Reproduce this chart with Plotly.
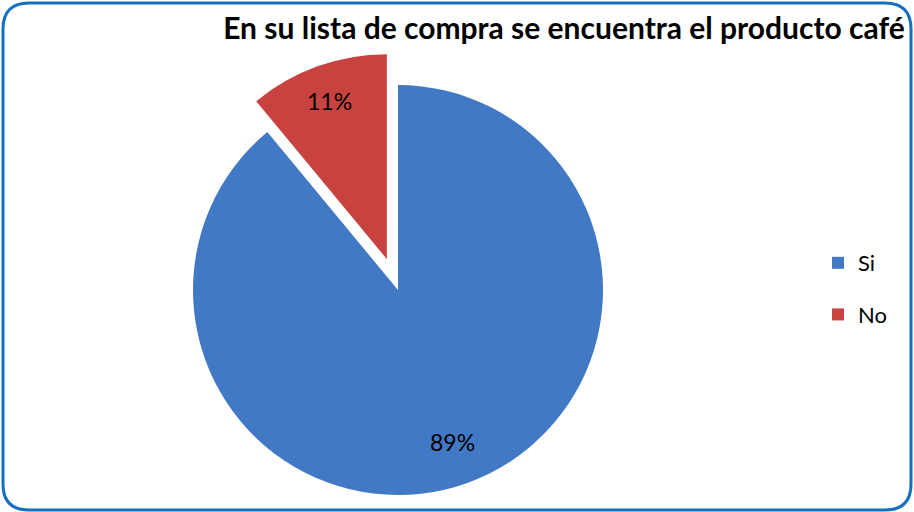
import math
import plotly.graph_objects as go

labels = ["Si", "No"]
values = [89, 11]
colors = ["#4279C4", "#C8423F"]
pulls = [0.0, 0.16]          # pull-out as a fraction of the radius
label_radius = [0.79, 0.82]  # where each percentage label sits, fraction of radius
title_text = "En su lista de compra se encuentra el producto café"

W, H = 914, 512
CX, CY, R = 398, 290, 205   # pie centre (px from left/top) and radius in px
FONT = "Lato"

total = sum(values)
fig = go.Figure()

# legend-only tiny pies (one legend group per label so the entries can be spaced)
for i, (lab, col) in enumerate(zip(labels, colors)):
    fig.add_trace(go.Pie(
        labels=[lab], values=[values[i]], sort=False,
        marker=dict(colors=[col], line=dict(width=0)),
        textinfo="none", hoverinfo="skip",
        legendgroup=f"g{i}", showlegend=True,
        domain=dict(x=[(470 - 4) / W, (470 + 4) / W],
                    y=[1 - (400 + 4) / H, 1 - (400 - 4) / H]),
    ))

# one pie per slice, each drawn with the other slice transparent and its
# centre shifted along the slice bisector by its pull
start = 0.0
for i, lab in enumerate(labels):
    frac = values[i] / total
    mid = (start + frac / 2) * 2 * math.pi      # clockwise from 12 o'clock
    start += frac
    shift = pulls[i] * R
    cx = CX + shift * math.sin(mid)
    cy = CY - shift * math.cos(mid)
    cols = ["rgba(0,0,0,0)"] * len(labels)
    cols[i] = colors[i]
    fig.add_trace(go.Pie(
        labels=labels, values=values, sort=False, direction="clockwise", rotation=0,
        marker=dict(colors=cols, line=dict(width=0)),
        textinfo="none", hovertemplate="%{label}: %{percent}<extra></extra>",
        showlegend=False,
        domain=dict(x=[(cx - R) / W, (cx + R) / W],
                    y=[1 - (cy + R) / H, 1 - (cy - R) / H]),
    ))
    lx = cx + label_radius[i] * R * math.sin(mid)
    ly = cy - label_radius[i] * R * math.cos(mid)
    fig.add_annotation(x=lx / W, y=1 - ly / H, xref="paper", yref="paper",
                       text=f"{round(100 * values[i] / total)}%", showarrow=False,
                       font=dict(family=FONT, size=23, color="#000000"),
                       xanchor="center", yanchor="middle")

# rounded border
x0, x1 = 3 / W, 911 / W
y0, y1 = 2 / H, 509 / H
rx, ry = 26 / W, 26 / H
path = (f"M {x0+rx},{y1} L {x1-rx},{y1} Q {x1},{y1} {x1},{y1-ry} "
        f"L {x1},{y0+ry} Q {x1},{y0} {x1-rx},{y0} L {x0+rx},{y0} "
        f"Q {x0},{y0} {x0},{y0+ry} L {x0},{y1-ry} Q {x0},{y1} {x0+rx},{y1} Z")

fig.update_layout(
    width=W, height=H,
    margin=dict(l=0, r=0, t=0, b=0),
    paper_bgcolor="#FFFFFF",
    plot_bgcolor="#FFFFFF",
    title=dict(text=f"<b>{title_text}</b>", x=0.99, xanchor="right", y=0.945, yanchor="middle",
               font=dict(family=FONT, size=30, color="#000000")),
    legend=dict(x=0.895, xanchor="left", y=0.4355, yanchor="middle",
                font=dict(family=FONT, size=22, color="#000000"),
                itemwidth=30, traceorder="grouped", tracegroupgap=20),
    shapes=[dict(type="path", xref="paper", yref="paper", path=path,
                 line=dict(color="#1570C0", width=3), fillcolor="rgba(0,0,0,0)")],
)

fig.write_html("out.html")
